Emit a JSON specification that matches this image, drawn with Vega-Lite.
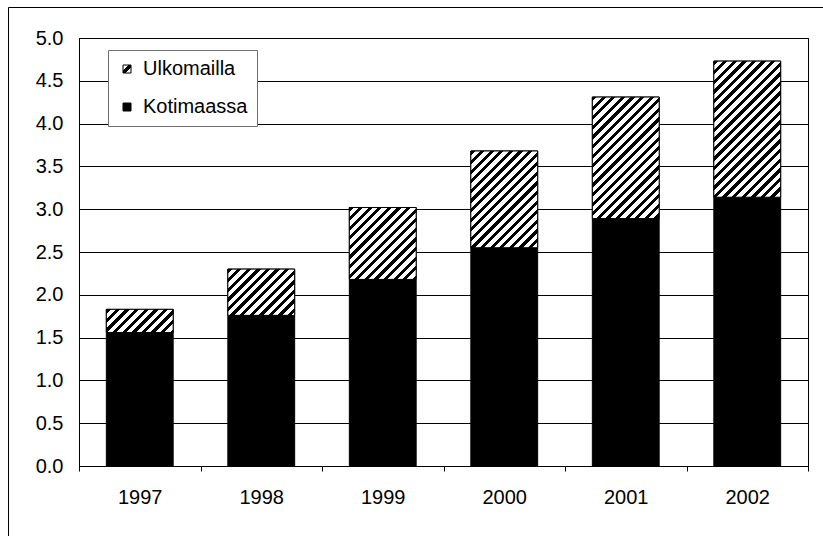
{
  "$schema": "https://vega.github.io/schema/vega-lite/v6.json",
  "width": 729,
  "height": 428,
  "autosize": {"type": "none"},
  "padding": {"left": 79, "top": 38, "right": 15, "bottom": 70},
  "background": "white",
  "params": [
    {"name": "lhatch", "value": [
      {"offset": 0, "color": "white"}, {"offset": 0.36, "color": "white"}, {"offset": 0.36, "color": "black"},
      {"offset": 0.64, "color": "black"}, {"offset": 0.64, "color": "white"}, {"offset": 1, "color": "white"}
    ]},
    {"name": "hatch", "value": [
      {"offset": 0, "color": "black"}, {"offset": 0.01875, "color": "black"}, {"offset": 0.01875, "color": "white"}, {"offset": 0.041667, "color": "white"},
      {"offset": 0.041667, "color": "black"}, {"offset": 0.060417, "color": "black"}, {"offset": 0.060417, "color": "white"}, {"offset": 0.083333, "color": "white"},
      {"offset": 0.083333, "color": "black"}, {"offset": 0.102083, "color": "black"}, {"offset": 0.102083, "color": "white"}, {"offset": 0.125, "color": "white"},
      {"offset": 0.125, "color": "black"}, {"offset": 0.14375, "color": "black"}, {"offset": 0.14375, "color": "white"}, {"offset": 0.166667, "color": "white"},
      {"offset": 0.166667, "color": "black"}, {"offset": 0.185417, "color": "black"}, {"offset": 0.185417, "color": "white"}, {"offset": 0.208333, "color": "white"},
      {"offset": 0.208333, "color": "black"}, {"offset": 0.227083, "color": "black"}, {"offset": 0.227083, "color": "white"}, {"offset": 0.25, "color": "white"},
      {"offset": 0.25, "color": "black"}, {"offset": 0.26875, "color": "black"}, {"offset": 0.26875, "color": "white"}, {"offset": 0.291667, "color": "white"},
      {"offset": 0.291667, "color": "black"}, {"offset": 0.310417, "color": "black"}, {"offset": 0.310417, "color": "white"}, {"offset": 0.333333, "color": "white"},
      {"offset": 0.333333, "color": "black"}, {"offset": 0.352083, "color": "black"}, {"offset": 0.352083, "color": "white"}, {"offset": 0.375, "color": "white"},
      {"offset": 0.375, "color": "black"}, {"offset": 0.39375, "color": "black"}, {"offset": 0.39375, "color": "white"}, {"offset": 0.416667, "color": "white"},
      {"offset": 0.416667, "color": "black"}, {"offset": 0.435417, "color": "black"}, {"offset": 0.435417, "color": "white"}, {"offset": 0.458333, "color": "white"},
      {"offset": 0.458333, "color": "black"}, {"offset": 0.477083, "color": "black"}, {"offset": 0.477083, "color": "white"}, {"offset": 0.5, "color": "white"},
      {"offset": 0.5, "color": "black"}, {"offset": 0.51875, "color": "black"}, {"offset": 0.51875, "color": "white"}, {"offset": 0.541667, "color": "white"},
      {"offset": 0.541667, "color": "black"}, {"offset": 0.560417, "color": "black"}, {"offset": 0.560417, "color": "white"}, {"offset": 0.583333, "color": "white"},
      {"offset": 0.583333, "color": "black"}, {"offset": 0.602083, "color": "black"}, {"offset": 0.602083, "color": "white"}, {"offset": 0.625, "color": "white"},
      {"offset": 0.625, "color": "black"}, {"offset": 0.64375, "color": "black"}, {"offset": 0.64375, "color": "white"}, {"offset": 0.666667, "color": "white"},
      {"offset": 0.666667, "color": "black"}, {"offset": 0.685417, "color": "black"}, {"offset": 0.685417, "color": "white"}, {"offset": 0.708333, "color": "white"},
      {"offset": 0.708333, "color": "black"}, {"offset": 0.727083, "color": "black"}, {"offset": 0.727083, "color": "white"}, {"offset": 0.75, "color": "white"},
      {"offset": 0.75, "color": "black"}, {"offset": 0.76875, "color": "black"}, {"offset": 0.76875, "color": "white"}, {"offset": 0.791667, "color": "white"},
      {"offset": 0.791667, "color": "black"}, {"offset": 0.810417, "color": "black"}, {"offset": 0.810417, "color": "white"}, {"offset": 0.833333, "color": "white"},
      {"offset": 0.833333, "color": "black"}, {"offset": 0.852083, "color": "black"}, {"offset": 0.852083, "color": "white"}, {"offset": 0.875, "color": "white"},
      {"offset": 0.875, "color": "black"}, {"offset": 0.89375, "color": "black"}, {"offset": 0.89375, "color": "white"}, {"offset": 0.916667, "color": "white"},
      {"offset": 0.916667, "color": "black"}, {"offset": 0.935417, "color": "black"}, {"offset": 0.935417, "color": "white"}, {"offset": 0.958333, "color": "white"},
      {"offset": 0.958333, "color": "black"}, {"offset": 0.977083, "color": "black"}, {"offset": 0.977083, "color": "white"}, {"offset": 1, "color": "white"}
    ]}
  ],
  "data": {"values": [
    {"year": "1997", "series": "Kotimaassa", "value": 1.56},
    {"year": "1997", "series": "Ulkomailla", "value": 0.27},
    {"year": "1998", "series": "Kotimaassa", "value": 1.76},
    {"year": "1998", "series": "Ulkomailla", "value": 0.54},
    {"year": "1999", "series": "Kotimaassa", "value": 2.18},
    {"year": "1999", "series": "Ulkomailla", "value": 0.84},
    {"year": "2000", "series": "Kotimaassa", "value": 2.55},
    {"year": "2000", "series": "Ulkomailla", "value": 1.13},
    {"year": "2001", "series": "Kotimaassa", "value": 2.89},
    {"year": "2001", "series": "Ulkomailla", "value": 1.42},
    {"year": "2002", "series": "Kotimaassa", "value": 3.14},
    {"year": "2002", "series": "Ulkomailla", "value": 1.59}
  ]},
  "transform": [
    {"stack": "value", "groupby": ["year"], "sort": [{"field": "series", "order": "ascending"}], "as": ["v0", "v1"]}
  ],
  "encoding": {
    "x": {
      "field": "year", "type": "ordinal",
      "scale": {"paddingInner": 0, "paddingOuter": 0},
      "axis": {
        "title": null, "labelAngle": 0, "labelFontSize": 20, "labelColor": "black",
        "labelPadding": 16, "tickBand": "extent", "tickSize": 5, "tickColor": "black",
        "domainColor": "black", "domainWidth": 1, "grid": false
      }
    },
    "y": {
      "field": "v1", "type": "quantitative",
      "scale": {"domain": [0, 5], "nice": false},
      "axis": {
        "title": null, "values": [0, 0.5, 1, 1.5, 2, 2.5, 3, 3.5, 4, 4.5, 5],
        "format": ".1f", "labelFontSize": 20, "labelColor": "black", "labelPadding": 16,
        "ticks": false, "domainColor": "black", "domainWidth": 1,
        "grid": true, "gridColor": "black", "gridOpacity": 1, "gridWidth": 1
      }
    },
    "y2": {"field": "v0"}
  },
  "layer": [
    {
      "mark": {"type": "bar", "width": {"band": 0.55}, "stroke": "black", "strokeWidth": 1},
      "encoding": {
        "fill": {
          "field": "series", "type": "nominal",
          "scale": {
            "domain": ["Ulkomailla", "Kotimaassa"],
            "range": [{"expr": "{gradient: 'linear', x1: 0, y1: 0, x2: 1, y2: 1, stops: lhatch}"}, "black"]
          },
          "legend": {
            "title": null, "orient": "none", "legendX": 29, "legendY": 12,
            "strokeColor": "#707070", "fillColor": "white", "padding": 9,
            "rowPadding": 18, "symbolType": "square", "symbolSize": 64,
            "symbolStrokeColor": "black", "symbolStrokeWidth": 1,
            "labelFontSize": 20, "labelColor": "black", "labelOffset": 6
          }
        }
      }
    },
    {
      "transform": [{"filter": "datum.series === 'Ulkomailla'"}],
      "mark": {"type": "bar", "width": {"band": 0.55}, "stroke": "black", "strokeWidth": 1},
      "encoding": {
        "fill": {"value": {"expr": "{gradient: 'linear', x1: 0, y1: 0, x2: 230.4*0.55*bandwidth('x')/(pow(0.55*bandwidth('x'),2)+pow(scale('y',datum.v0)-scale('y',datum.v1),2)), y2: 230.4*(scale('y',datum.v0)-scale('y',datum.v1))/(pow(0.55*bandwidth('x'),2)+pow(scale('y',datum.v0)-scale('y',datum.v1),2)), stops: hatch}"}},
        "opacity": {
          "field": "year", "type": "ordinal",
          "scale": {"range": [1, 1]},
          "legend": {
            "title": null, "orient": "none", "legendX": -71, "legendY": -31,
            "strokeColor": "black", "fillColor": null, "padding": 450,
            "values": ["1997"],
            "symbolOpacity": 0, "labelOpacity": 0, "symbolSize": 0,
            "symbolFillColor": "transparent", "symbolStrokeColor": "transparent", "symbolStrokeWidth": 0,
            "labelColor": "transparent", "labelFontSize": 1, "rowPadding": 0
          }
        }
      }
    }
  ],
  "config": {
    "font": "Liberation Sans",
    "view": {"stroke": "black", "strokeWidth": 1}
  }
}
